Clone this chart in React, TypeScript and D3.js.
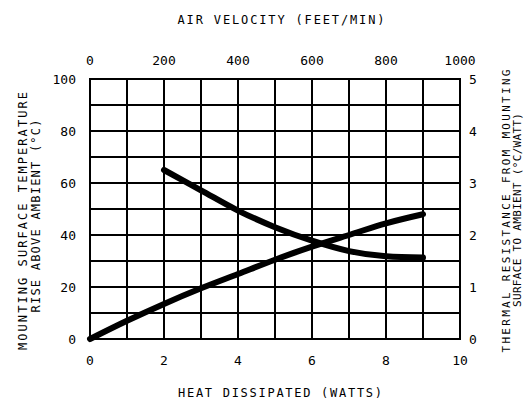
import React, { useEffect, useRef } from "react";
import * as d3 from "d3";

// rising curve: heat dissipated (W) vs mounting surface temp rise (°C)
const heatWatts = [0, 1, 2, 3, 4, 5, 6, 7, 8, 9];
const tempRise = [0, 7, 13.5, 19.5, 25, 30.5, 35.5, 40, 44.5, 48];

// falling curve: air velocity (ft/min) vs thermal resistance (°C/W)
const airVelocity = [200, 300, 400, 500, 600, 700, 800, 900];
const thermalRes = [3.25, 2.86, 2.47, 2.15, 1.89, 1.69, 1.59, 1.565];

const bottomTicks = [0, 2, 4, 6, 8, 10];
const topTicks = [0, 200, 400, 600, 800, 1000];
const leftTicks = [0, 20, 40, 60, 80, 100];
const rightTicks = [0, 1, 2, 3, 4, 5];

const FONT = "'DejaVu Sans Mono', monospace";

export default function App() {
  const ref = useRef<SVGSVGElement>(null);

  useEffect(() => {
    const svg = d3.select(ref.current);
    svg.selectAll("*").remove();

    const left = 90, right = 460, top = 79, bottom = 339;
    const x = d3.scaleLinear().domain([0, 10]).range([left, right]);
    const xTop = d3.scaleLinear().domain([0, 1000]).range([left, right]);
    const y = d3.scaleLinear().domain([0, 100]).range([bottom, top]);
    const yR = d3.scaleLinear().domain([0, 5]).range([bottom, top]);

    // grid
    const grid = svg.append("g").attr("stroke", "#000").attr("stroke-width", 2);
    grid.selectAll("line.v").data(d3.range(1, 10)).join("line").attr("class", "v")
      .attr("x1", (d) => x(d)).attr("x2", (d) => x(d)).attr("y1", top).attr("y2", bottom);
    grid.selectAll("line.h").data(d3.range(10, 100, 10)).join("line").attr("class", "h")
      .attr("x1", left).attr("x2", right).attr("y1", (d) => y(d)).attr("y2", (d) => y(d));
    grid.append("rect").attr("x", left).attr("y", top).attr("width", right - left).attr("height", bottom - top)
      .attr("fill", "none");

    const txt = svg.append("g").attr("font-family", FONT).attr("font-size", 13).attr("fill", "#000");

    txt.selectAll("text.b").data(bottomTicks).join("text").attr("class", "b")
      .attr("x", (d) => x(d)).attr("y", 365).attr("text-anchor", "middle").text((d) => d);
    txt.selectAll("text.t").data(topTicks).join("text").attr("class", "t")
      .attr("x", (d) => xTop(d)).attr("y", 65).attr("text-anchor", "middle").text((d) => d);
    txt.selectAll("text.l").data(leftTicks).join("text").attr("class", "l")
      .attr("x", 76).attr("y", (d) => y(d) + 5).attr("text-anchor", "end").text((d) => d);
    txt.selectAll("text.r").data(rightTicks).join("text").attr("class", "r")
      .attr("x", 469).attr("y", (d) => yR(d) + 5).attr("text-anchor", "start").text((d) => d);

    const label = (s: string, cx: number, cy: number, len: number, rot: boolean, size = 12) => {
      const t = txt.append("text").attr("text-anchor", "middle").attr("font-size", size)
        .attr("textLength", len).attr("lengthAdjust", "spacing").text(s);
      if (rot) t.attr("transform", `translate(${cx},${cy}) rotate(-90)`);
      else t.attr("x", cx).attr("y", cy);
    };
    label("AIR VELOCITY (FEET/MIN)", 281, 24, 207, false);
    label("HEAT DISSIPATED (WATTS)", 280, 397, 204, false);
    label("MOUNTING SURFACE TEMPERATURE", 27, 221, 258, true);
    label("RISE ABOVE AMBIENT (°C)", 40, 216, 193, true);
    label("THERMAL RESISTANCE FROM MOUNTING", 510, 211, 283, true, 11);
    label("SURFACE TO AMBIENT (°C/WATT)", 521, 210, 194, true, 11);

    // curves
    const rise = d3.line<number>().x((d) => x(d)).y((_, i) => y(tempRise[i])).curve(d3.curveMonotoneX);
    const fall = d3.line<number>().x((d) => xTop(d)).y((_, i) => yR(thermalRes[i])).curve(d3.curveMonotoneX);
    const curves = svg.append("g").attr("fill", "none").attr("stroke", "#000")
      .attr("stroke-width", 6).attr("stroke-linecap", "round").attr("stroke-linejoin", "round");
    curves.append("path").attr("d", rise(heatWatts));
    curves.append("path").attr("d", fall(airVelocity));
  }, []);

  return (
    <svg ref={ref} width={529} height={409}
      style={{ position: "absolute", left: 0, top: 0, background: "#fff" }} />
  );
}
